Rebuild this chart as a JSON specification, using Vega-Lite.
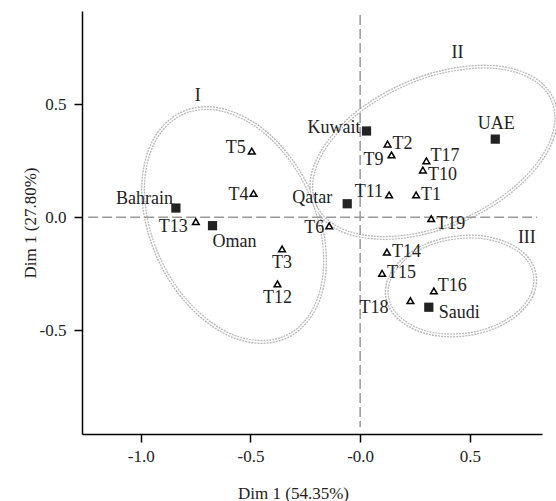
{
  "$schema": "https://vega.github.io/schema/vega-lite/v6.json",
  "width": 460,
  "height": 423,
  "autosize": {"type": "none"},
  "padding": {"left": 82, "top": 11, "right": 14, "bottom": 67},
  "config": {
    "font": "Liberation Serif",
    "view": {"stroke": null},
    "text": {"font": "Liberation Serif", "fontSize": 18, "color": "#222"}
  },
  "datasets": {
    "pts": [
      {"name": "Bahrain", "type": "country", "x": -0.840, "y": 0.041},
      {"name": "Oman", "type": "country", "x": -0.673, "y": -0.037},
      {"name": "Kuwait", "type": "country", "x": 0.029, "y": 0.382},
      {"name": "Qatar", "type": "country", "x": -0.059, "y": 0.060},
      {"name": "UAE", "type": "country", "x": 0.616, "y": 0.346},
      {"name": "Saudi", "type": "country", "x": 0.313, "y": -0.398},
      {"name": "T1", "type": "attr", "x": 0.255, "y": 0.099},
      {"name": "T2", "type": "attr", "x": 0.125, "y": 0.324},
      {"name": "T3", "type": "attr", "x": -0.356, "y": -0.140},
      {"name": "T4", "type": "attr", "x": -0.486, "y": 0.106},
      {"name": "T5", "type": "attr", "x": -0.494, "y": 0.293},
      {"name": "T6", "type": "attr", "x": -0.141, "y": -0.038},
      {"name": "T9", "type": "attr", "x": 0.143, "y": 0.276},
      {"name": "T10", "type": "attr", "x": 0.286, "y": 0.209},
      {"name": "T11", "type": "attr", "x": 0.132, "y": 0.099},
      {"name": "T12", "type": "attr", "x": -0.377, "y": -0.295},
      {"name": "T13", "type": "attr", "x": -0.749, "y": -0.019},
      {"name": "T14", "type": "attr", "x": 0.122, "y": -0.154},
      {"name": "T15", "type": "attr", "x": 0.100, "y": -0.248},
      {"name": "T16", "type": "attr", "x": 0.336, "y": -0.326},
      {"name": "T17", "type": "attr", "x": 0.302, "y": 0.250},
      {"name": "T18", "type": "attr", "x": 0.229, "y": -0.369},
      {"name": "T19", "type": "attr", "x": 0.324, "y": -0.006}
    ],
    "ell": [
      {"g": "I", "i": 0, "x": -0.160, "y": -0.191},
      {"g": "I", "i": 1, "x": -0.174, "y": -0.313},
      {"g": "I", "i": 2, "x": -0.215, "y": -0.416},
      {"g": "I", "i": 3, "x": -0.281, "y": -0.494},
      {"g": "I", "i": 4, "x": -0.367, "y": -0.540},
      {"g": "I", "i": 5, "x": -0.467, "y": -0.551},
      {"g": "I", "i": 6, "x": -0.575, "y": -0.528},
      {"g": "I", "i": 7, "x": -0.682, "y": -0.470},
      {"g": "I", "i": 8, "x": -0.782, "y": -0.383},
      {"g": "I", "i": 9, "x": -0.868, "y": -0.272},
      {"g": "I", "i": 10, "x": -0.934, "y": -0.145},
      {"g": "I", "i": 11, "x": -0.975, "y": -0.011},
      {"g": "I", "i": 12, "x": -0.990, "y": 0.122},
      {"g": "I", "i": 13, "x": -0.975, "y": 0.245},
      {"g": "I", "i": 14, "x": -0.934, "y": 0.348},
      {"g": "I", "i": 15, "x": -0.868, "y": 0.425},
      {"g": "I", "i": 16, "x": -0.782, "y": 0.472},
      {"g": "I", "i": 17, "x": -0.682, "y": 0.483},
      {"g": "I", "i": 18, "x": -0.575, "y": 0.459},
      {"g": "I", "i": 19, "x": -0.467, "y": 0.402},
      {"g": "I", "i": 20, "x": -0.367, "y": 0.315},
      {"g": "I", "i": 21, "x": -0.281, "y": 0.204},
      {"g": "I", "i": 22, "x": -0.215, "y": 0.077},
      {"g": "I", "i": 23, "x": -0.174, "y": -0.058},
      {"g": "II", "i": 0, "x": 0.894, "y": 0.441},
      {"g": "II", "i": 1, "x": 0.875, "y": 0.346},
      {"g": "II", "i": 2, "x": 0.819, "y": 0.247},
      {"g": "II", "i": 3, "x": 0.730, "y": 0.151},
      {"g": "II", "i": 4, "x": 0.615, "y": 0.064},
      {"g": "II", "i": 5, "x": 0.480, "y": -0.008},
      {"g": "II", "i": 6, "x": 0.335, "y": -0.059},
      {"g": "II", "i": 7, "x": 0.191, "y": -0.087},
      {"g": "II", "i": 8, "x": 0.056, "y": -0.089},
      {"g": "II", "i": 9, "x": -0.060, "y": -0.066},
      {"g": "II", "i": 10, "x": -0.148, "y": -0.019},
      {"g": "II", "i": 11, "x": -0.204, "y": 0.050},
      {"g": "II", "i": 12, "x": -0.223, "y": 0.134},
      {"g": "II", "i": 13, "x": -0.204, "y": 0.229},
      {"g": "II", "i": 14, "x": -0.148, "y": 0.328},
      {"g": "II", "i": 15, "x": -0.060, "y": 0.425},
      {"g": "II", "i": 16, "x": 0.056, "y": 0.511},
      {"g": "II", "i": 17, "x": 0.191, "y": 0.583},
      {"g": "II", "i": 18, "x": 0.335, "y": 0.635},
      {"g": "II", "i": 19, "x": 0.480, "y": 0.662},
      {"g": "II", "i": 20, "x": 0.615, "y": 0.665},
      {"g": "II", "i": 21, "x": 0.730, "y": 0.641},
      {"g": "II", "i": 22, "x": 0.819, "y": 0.594},
      {"g": "II", "i": 23, "x": 0.875, "y": 0.525},
      {"g": "III", "i": 0, "x": 0.798, "y": -0.278},
      {"g": "III", "i": 1, "x": 0.787, "y": -0.335},
      {"g": "III", "i": 2, "x": 0.753, "y": -0.390},
      {"g": "III", "i": 3, "x": 0.699, "y": -0.439},
      {"g": "III", "i": 4, "x": 0.629, "y": -0.479},
      {"g": "III", "i": 5, "x": 0.547, "y": -0.507},
      {"g": "III", "i": 6, "x": 0.460, "y": -0.521},
      {"g": "III", "i": 7, "x": 0.372, "y": -0.521},
      {"g": "III", "i": 8, "x": 0.290, "y": -0.506},
      {"g": "III", "i": 9, "x": 0.220, "y": -0.476},
      {"g": "III", "i": 10, "x": 0.167, "y": -0.436},
      {"g": "III", "i": 11, "x": 0.133, "y": -0.386},
      {"g": "III", "i": 12, "x": 0.121, "y": -0.331},
      {"g": "III", "i": 13, "x": 0.133, "y": -0.273},
      {"g": "III", "i": 14, "x": 0.167, "y": -0.218},
      {"g": "III", "i": 15, "x": 0.220, "y": -0.169},
      {"g": "III", "i": 16, "x": 0.290, "y": -0.129},
      {"g": "III", "i": 17, "x": 0.372, "y": -0.101},
      {"g": "III", "i": 18, "x": 0.460, "y": -0.087},
      {"g": "III", "i": 19, "x": 0.547, "y": -0.087},
      {"g": "III", "i": 20, "x": 0.629, "y": -0.103},
      {"g": "III", "i": 21, "x": 0.699, "y": -0.132},
      {"g": "III", "i": 22, "x": 0.753, "y": -0.172},
      {"g": "III", "i": 23, "x": 0.787, "y": -0.222}
    ],
    "refs": [
      {"x": 0, "y": 0.895, "x2": 0, "y2": -0.928},
      {"x": -1.240, "y": 0, "x2": 0.807, "y2": 0}
    ],
    "roman": [
      {"label": "I", "x": -0.740, "y": 0.538},
      {"label": "II", "x": 0.444, "y": 0.728},
      {"label": "III", "x": 0.760, "y": -0.093}
    ]
  },
  "encoding": {
    "x": {
      "field": "x", "type": "quantitative",
      "scale": {"domain": [-1.268, 0.829], "nice": false, "zero": false},
      "axis": {
        "title": "Dim 1 (54.35%)",
        "values": [-1, -0.5, 0, 0.5],
        "labelExpr": "datum.value == 0 ? '-0.0' : (datum.value < 0 ? '-' + format(-datum.value, '.1f') : format(datum.value, '.1f'))",
        "grid": false, "domainColor": "black", "domainWidth": 1.5,
        "tickColor": "black", "tickWidth": 1.5, "tickSize": 8,
        "labelFontSize": 17, "titleFontSize": 17, "titleFontWeight": "normal",
        "labelColor": "#222", "titleColor": "#222", "labelPadding": 6,
        "labelFlush": false, "labelOverlap": false,
        "titleX": 211, "titleY": 59, "titleBaseline": "middle"
      }
    },
    "y": {
      "field": "y", "type": "quantitative",
      "scale": {"domain": [-0.959, 0.913], "nice": false, "zero": false},
      "axis": {
        "title": "Dim 1 (27.80%)",
        "values": [-0.5, 0, 0.5],
        "labelExpr": "datum.value < 0 ? '-' + format(-datum.value, '.1f') : format(datum.value, '.1f')",
        "grid": false, "domainColor": "black", "domainWidth": 1.5,
        "tickColor": "black", "tickWidth": 1.5, "tickSize": 8,
        "labelFontSize": 17, "titleFontSize": 17, "titleFontWeight": "normal",
        "labelColor": "#222", "titleColor": "#222", "labelPadding": 8,
        "labelFlush": false, "labelOverlap": false,
        "titleX": -52, "titleY": 211.5, "titleBaseline": "middle"
      }
    }
  },
  "layer": [
    {
      "data": {"name": "ell"},
      "mark": {"type": "line", "interpolate": "cardinal-closed", "stroke": "#b8b8b8", "strokeWidth": 4, "strokeDash": [2, 1]},
      "encoding": {"detail": {"field": "g"}, "order": {"field": "i", "type": "quantitative"}}
    },
    {
      "data": {"name": "ell"},
      "mark": {"type": "line", "interpolate": "cardinal-closed", "stroke": "white", "strokeWidth": 1.4},
      "encoding": {"detail": {"field": "g"}, "order": {"field": "i", "type": "quantitative"}}
    },
    {
      "data": {"name": "refs"},
      "mark": {"type": "rule", "stroke": "#999", "strokeWidth": 1.5, "strokeDash": [10, 4]},
      "encoding": {"x2": {"field": "x2"}, "y2": {"field": "y2"}}
    },
    {
      "data": {"name": "pts"},
      "transform": [{"filter": "datum.type == 'country'"}],
      "mark": {"type": "square", "size": 85, "color": "#222", "opacity": 1}
    },
    {
      "data": {"name": "pts"},
      "transform": [{"filter": "datum.type == 'attr'"}],
      "mark": {"type": "point", "shape": "triangle-up", "size": 45, "filled": false, "stroke": "black", "strokeWidth": 1.5, "opacity": 1}
    },
    {
      "data": {"name": "roman"},
      "mark": {"type": "text", "align": "center", "baseline": "middle"},
      "encoding": {"text": {"field": "label"}}
    },
    {
      "data": {"name": "pts"},
      "transform": [{"filter": "indexof(['Kuwait','T5','T11'], datum.name) >= 0"}],
      "mark": {"type": "text", "align": "right", "baseline": "middle", "dx": -6, "dy": -3},
      "encoding": {"text": {"field": "name"}}
    },
    {
      "data": {"name": "pts"},
      "transform": [{"filter": "indexof(['T4','T6'], datum.name) >= 0"}],
      "mark": {"type": "text", "align": "right", "baseline": "middle", "dx": -5, "dy": 2},
      "encoding": {"text": {"field": "name"}}
    },
    {
      "data": {"name": "pts"},
      "transform": [{"filter": "datum.name == 'Bahrain'"}],
      "mark": {"type": "text", "align": "right", "baseline": "middle", "dx": -3, "dy": -9},
      "encoding": {"text": {"field": "name"}}
    },
    {
      "data": {"name": "pts"},
      "transform": [{"filter": "datum.name == 'Qatar'"}],
      "mark": {"type": "text", "align": "right", "baseline": "middle", "dx": -15, "dy": -6},
      "encoding": {"text": {"field": "name"}}
    },
    {
      "data": {"name": "pts"},
      "transform": [{"filter": "indexof(['T13','T9'], datum.name) >= 0"}],
      "mark": {"type": "text", "align": "right", "baseline": "middle", "dx": -8, "dy": 5},
      "encoding": {"text": {"field": "name"}}
    },
    {
      "data": {"name": "pts"},
      "transform": [{"filter": "datum.name == 'T18'"}],
      "mark": {"type": "text", "align": "right", "baseline": "middle", "dx": -22, "dy": 7},
      "encoding": {"text": {"field": "name"}}
    },
    {
      "data": {"name": "pts"},
      "transform": [{"filter": "indexof(['T2','T14','T1','T15'], datum.name) >= 0"}],
      "mark": {"type": "text", "align": "left", "baseline": "middle", "dx": 5, "dy": 0},
      "encoding": {"text": {"field": "name"}}
    },
    {
      "data": {"name": "pts"},
      "transform": [{"filter": "indexof(['T17','T16'], datum.name) >= 0"}],
      "mark": {"type": "text", "align": "left", "baseline": "middle", "dx": 4, "dy": -5},
      "encoding": {"text": {"field": "name"}}
    },
    {
      "data": {"name": "pts"},
      "transform": [{"filter": "indexof(['T10','T19'], datum.name) >= 0"}],
      "mark": {"type": "text", "align": "left", "baseline": "middle", "dx": 5, "dy": 5},
      "encoding": {"text": {"field": "name"}}
    },
    {
      "data": {"name": "pts"},
      "transform": [{"filter": "datum.name == 'Saudi'"}],
      "mark": {"type": "text", "align": "left", "baseline": "middle", "dx": 10, "dy": 6},
      "encoding": {"text": {"field": "name"}}
    },
    {
      "data": {"name": "pts"},
      "transform": [{"filter": "datum.name == 'Oman'"}],
      "mark": {"type": "text", "align": "left", "baseline": "middle", "dx": 0, "dy": 16},
      "encoding": {"text": {"field": "name"}}
    },
    {
      "data": {"name": "pts"},
      "transform": [{"filter": "datum.name == 'UAE'"}],
      "mark": {"type": "text", "align": "center", "baseline": "middle", "dx": 1, "dy": -15},
      "encoding": {"text": {"field": "name"}}
    },
    {
      "data": {"name": "pts"},
      "transform": [{"filter": "indexof(['T3','T12'], datum.name) >= 0"}],
      "mark": {"type": "text", "align": "center", "baseline": "middle", "dx": 0, "dy": 14},
      "encoding": {"text": {"field": "name"}}
    }
  ]
}
